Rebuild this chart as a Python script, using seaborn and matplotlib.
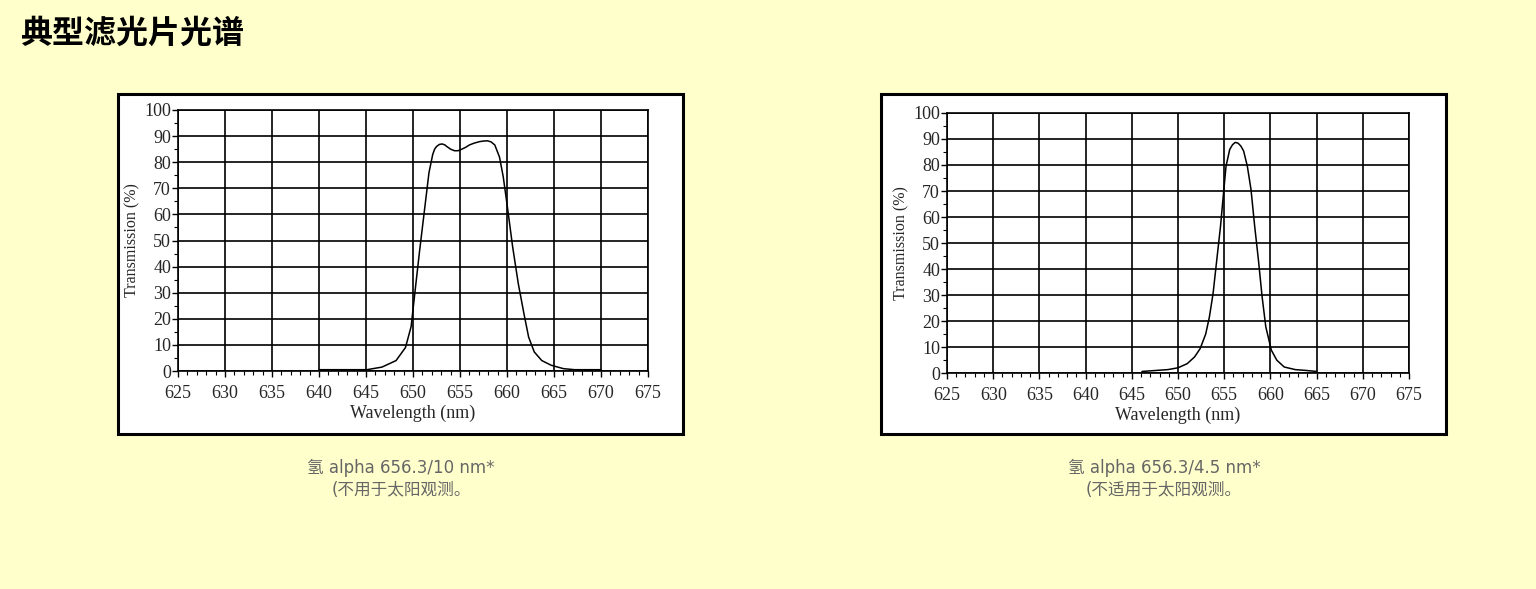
import numpy as np
import pandas as pd
import matplotlib
matplotlib.use("Agg")
import matplotlib.pyplot as plt
from matplotlib.patches import Rectangle
from matplotlib.ticker import MultipleLocator
import seaborn as sns

# ---- data ----
wl_10 = [640, 645.1, 646.7, 648.2, 649.2, 649.8, 650.2, 650.7, 651.3, 651.7, 652.1, 652.3,
         652.5, 652.8, 653.1, 653.4, 653.6, 654.0, 654.4, 654.8, 655.2, 655.6, 656.0, 656.5,
         657.1, 657.5, 657.9, 658.3, 658.7, 659.2, 659.6, 660.0, 660.6,
         661.2, 661.8, 662.3, 662.9, 663.7, 664.7, 666.0, 667.2, 670.0]
tr_10 = [0.5, 0.5, 1.5, 4, 9, 17, 30, 46, 64, 76, 83, 85,
         86, 86.8, 87, 86.6, 86, 85, 84.4, 84.4, 85, 85.7, 86.6, 87.3,
         87.9, 88.1, 88.2, 87.8, 86.6, 82, 74.4, 64, 47.6,
         33.5, 22, 13, 7.3, 4, 2.2, 0.9, 0.5, 0.5]

wl_45 = [646.1, 648.9, 650.0, 651.0, 651.8, 652.4, 653.0, 653.4, 653.8, 654.2, 654.6, 655.0,
         655.2, 655.6, 655.9, 656.2, 656.5, 656.8, 657.1, 657.5, 657.9, 658.3, 658.7, 659.1,
         659.5, 660.1, 660.7, 661.5, 662.7, 663.8, 665.0]
tr_45 = [0.6, 1.3, 2, 3.6, 6.2, 9.4, 15, 21.6, 30.7, 43.6, 56.4, 72,
         79.6, 86, 87.8, 88.7, 88.4, 87.3, 85.4, 79.6, 70.6, 56.4, 43.6, 29.4,
         17.8, 8.8, 4.9, 2.3, 1.3, 1.0, 0.6]

x_ticks = [625, 630, 635, 640, 645, 650, 655, 660, 665, 670, 675]
y_ticks = [0, 10, 20, 30, 40, 50, 60, 70, 80, 90, 100]

title = "典型滤光片光谱"
caption_1 = ["氢 alpha 656.3/10 nm*", "(不用于太阳观测。"]
caption_2 = ["氢 alpha 656.3/4.5 nm*", "(不适用于太阳观测。"]
x_label = "Wavelength (nm)"
y_label = "Transmission (%)"

sns.set_style("white")
plt.rcParams["font.family"] = ["Noto Sans CJK SC", "DejaVu Sans"]

W, H = 1536, 589
BG = "#FFFFCC"
fig = plt.figure(figsize=(W / 100, H / 100), dpi=100, facecolor=BG)


def fx(px):
    return px / W


def fy(py):
    return 1 - py / H


# frames (white boxes with black border)
for (x0, y0, x1, y1) in [(118, 94, 683, 434), (881, 94, 1446, 434)]:
    fig.patches.append(Rectangle((fx(x0), fy(y1)), fx(x1 - x0), (y1 - y0) / H,
                                 transform=fig.transFigure, facecolor="white",
                                 edgecolor="black", linewidth=2.2, zorder=-5))

serif = ["Liberation Serif", "DejaVu Serif"]


def draw(ax, wl, tr):
    df = pd.DataFrame({"wl": wl, "tr": tr})
    sns.lineplot(data=df, x="wl", y="tr", ax=ax, color="black", linewidth=1.1,
                 estimator=None, sort=False)
    ax.set_xlim(625, 675)
    ax.set_ylim(0, 100)
    ax.set_xticks(x_ticks)
    ax.set_yticks(y_ticks)
    ax.xaxis.set_minor_locator(MultipleLocator(1))
    ax.yaxis.set_minor_locator(MultipleLocator(5))
    ax.set_facecolor("white")
    ax.grid(True, which="major", color="black", linewidth=1.2)
    ax.set_axisbelow(True)
    for s in ax.spines.values():
        s.set_color("black")
        s.set_linewidth(1.2)
    ax.tick_params(which="major", direction="out", length=4, width=1, color="black",
                   labelsize=13, left=True, bottom=True)
    ax.tick_params(axis="x", which="major", pad=6)
    ax.tick_params(axis="y", which="major", pad=1)
    ax.tick_params(which="minor", direction="out", length=3, width=0.8, color="black",
                   left=True, bottom=True)
    for lab in ax.get_xticklabels() + ax.get_yticklabels():
        lab.set_family(serif)
    ax.set_xlabel(x_label, family=serif, fontsize=13, labelpad=2)
    ax.set_ylabel(y_label, family=serif, fontsize=11.5, labelpad=3)


ax1 = fig.add_axes([fx(178), fy(371), fx(648 - 178), (371 - 110) / H])
draw(ax1, wl_10, tr_10)
ax2 = fig.add_axes([fx(947), fy(373), fx(1409 - 947), (373 - 113) / H])
draw(ax2, wl_45, tr_45)

fig.text(fx(20), fy(34), title, fontsize=23, fontweight="bold", color="black",
         ha="left", va="center", family=["Noto Sans CJK SC", "DejaVu Sans"])

cap_font = ["DejaVu Sans", "Noto Sans CJK SC"]
for cx, cap in [(401, caption_1), (1164, caption_2)]:
    fig.text(fx(cx), fy(468), cap[0], fontsize=12, color="#666666", ha="center",
             va="center", family=cap_font)
    fig.text(fx(cx), fy(490), cap[1], fontsize=12, color="#666666", ha="center",
             va="center", family=cap_font)

fig.savefig("out.png", dpi=100, facecolor=BG)
